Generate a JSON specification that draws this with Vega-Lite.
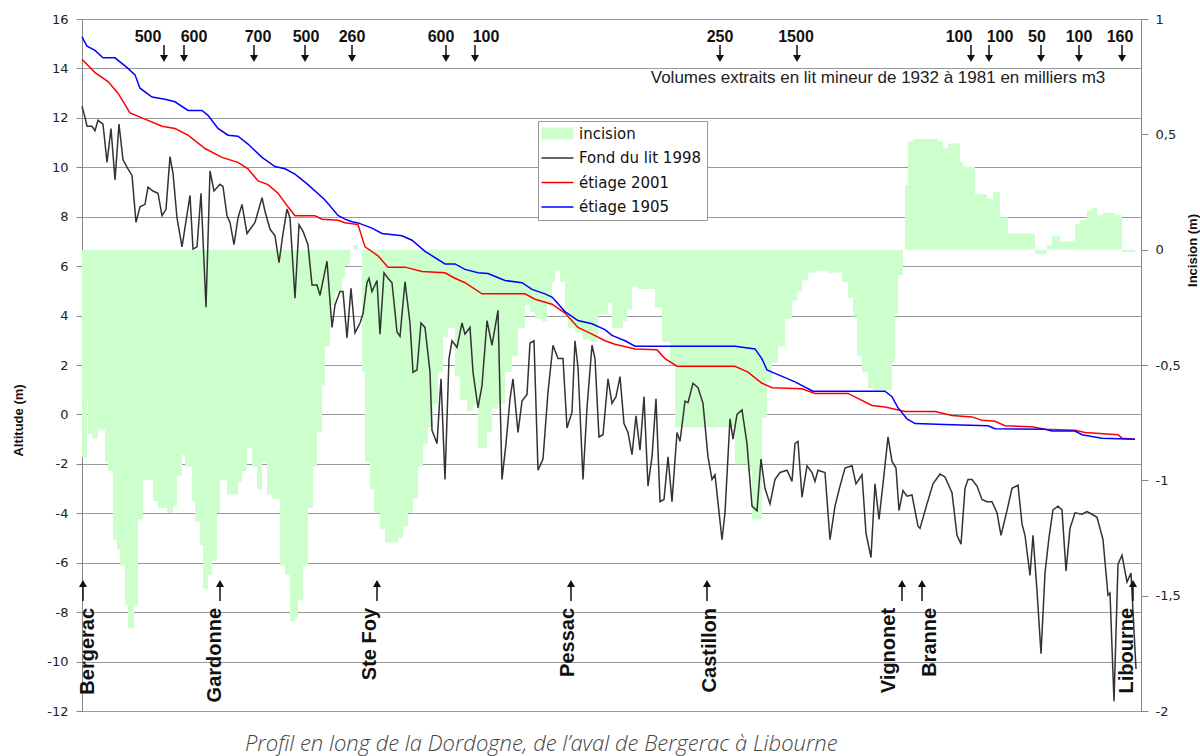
{
"$schema": "https://vega.github.io/schema/vega-lite/v6.json",
"width": 1059, "height": 692,
"autosize": {"type": "none"},
"padding": {"left": 82, "top": 19, "right": 59, "bottom": 45},
"background": "white",
"config": {"view": {"stroke": "#999"}, "font": "Liberation Sans"},
"title": {"text": "Profil en long de la Dordogne, de l’aval de Bergerac à Libourne", "orient": "bottom", "anchor": "start", "frame": "group", "dx": 163, "offset": 16, "font": "Open Sans", "fontSize": 22, "fontStyle": "italic", "fontWeight": 300, "color": "#444"},
"datasets": {
"incision": [
{"d":0,"incision":-0.90},{"d":5,"incision":-0.65},{"d":6,"incision":-0.80},{"d":10,"incision":-0.82},{"d":16,"incision":-0.78},{"d":23,"incision":-0.92},{"d":26,"incision":-0.96},{"d":31,"incision":-1.26},{"d":35,"incision":-1.30},{"d":38,"incision":-1.37},{"d":43,"incision":-1.54},{"d":46,"incision":-1.64},{"d":52,"incision":-1.54},{"d":56,"incision":-1.17},{"d":61,"incision":-1.00},{"d":71,"incision":-1.09},{"d":76,"incision":-1.12},{"d":85,"incision":-1.14},{"d":91,"incision":-1.11},{"d":95,"incision":-0.98},{"d":100,"incision":-0.89},{"d":103,"incision":-0.94},{"d":110,"incision":-1.09},{"d":113,"incision":-1.18},{"d":118,"incision":-1.28},{"d":121,"incision":-1.47},{"d":126,"incision":-1.41},{"d":130,"incision":-1.35},{"d":135,"incision":-1.14},{"d":138,"incision":-1.00},{"d":145,"incision":-1.06},{"d":156,"incision":-1.01},{"d":160,"incision":-0.96},{"d":165,"incision":-0.86},{"d":170,"incision":-0.94},{"d":175,"incision":-1.04},{"d":180,"incision":-0.92},{"d":185,"incision":-1.06},{"d":190,"incision":-1.08},{"d":198,"incision":-1.37},{"d":203,"incision":-1.41},{"d":208,"incision":-1.61},{"d":213,"incision":-1.60},{"d":216,"incision":-1.52},{"d":221,"incision":-1.37},{"d":226,"incision":-1.12},{"d":231,"incision":-0.94},{"d":235,"incision":-0.79},{"d":240,"incision":-0.59},{"d":243,"incision":-0.42},{"d":248,"incision":-0.24},{"d":253,"incision":-0.18},{"d":260,"incision":-0.12},{"d":263,"incision":-0.07},{"d":268,"incision":0},{"d":271,"incision":0.02},{"d":276,"incision":0},{"d":280,"incision":-0.53},{"d":283,"incision":-0.92},{"d":288,"incision":-1.04},{"d":292,"incision":-1.14},{"d":298,"incision":-1.21},{"d":303,"incision":-1.27},{"d":316,"incision":-1.25},{"d":321,"incision":-1.20},{"d":326,"incision":-1.14},{"d":331,"incision":-1.08},{"d":336,"incision":-0.94},{"d":341,"incision":-0.84},{"d":346,"incision":-0.77},{"d":351,"incision":-0.67},{"d":356,"incision":-0.53},{"d":361,"incision":-0.38},{"d":366,"incision":-0.34},{"d":373,"incision":-0.55},{"d":378,"incision":-0.65},{"d":385,"incision":-0.70},{"d":391,"incision":-0.67},{"d":396,"incision":-0.86},{"d":405,"incision":-0.79},{"d":410,"incision":-0.69},{"d":416,"incision":-0.67},{"d":423,"incision":-0.53},{"d":430,"incision":-0.46},{"d":436,"incision":-0.34},{"d":443,"incision":-0.24},{"d":448,"incision":-0.27},{"d":453,"incision":-0.30},{"d":460,"incision":-0.31},{"d":465,"incision":-0.24},{"d":470,"incision":-0.14},{"d":473,"incision":-0.09},{"d":478,"incision":-0.14},{"d":483,"incision":-0.26},{"d":486,"incision":-0.34},{"d":493,"incision":-0.36},{"d":501,"incision":-0.39},{"d":508,"incision":-0.40},{"d":516,"incision":-0.28},{"d":526,"incision":-0.23},{"d":530,"incision":-0.34},{"d":541,"incision":-0.31},{"d":545,"incision":-0.26},{"d":550,"incision":-0.16},{"d":556,"incision":-0.17},{"d":573,"incision":-0.25},{"d":580,"incision":-0.40},{"d":588,"incision":-0.49},{"d":593,"incision":-0.77},{"d":653,"incision":-0.93},{"d":665,"incision":-0.96},{"d":670,"incision":-1.17},{"d":680,"incision":-0.73},{"d":685,"incision":-0.57},{"d":690,"incision":-0.49},{"d":696,"incision":-0.42},{"d":703,"incision":-0.30},{"d":710,"incision":-0.22},{"d":715,"incision":-0.18},{"d":720,"incision":-0.13},{"d":726,"incision":-0.10},{"d":733,"incision":-0.09},{"d":746,"incision":-0.10},{"d":760,"incision":-0.14},{"d":766,"incision":-0.21},{"d":771,"incision":-0.29},{"d":775,"incision":-0.46},{"d":780,"incision":-0.53},{"d":786,"incision":-0.60},{"d":791,"incision":-0.61},{"d":810,"incision":-0.49},{"d":813,"incision":-0.28},{"d":816,"incision":-0.11},{"d":821,"incision":0},{"d":823,"incision":0.28},{"d":826,"incision":0.47},{"d":831,"incision":0.48},{"d":856,"incision":0.47},{"d":861,"incision":0.44},{"d":866,"incision":0.46},{"d":878,"incision":0.38},{"d":881,"incision":0.36},{"d":893,"incision":0.24},{"d":905,"incision":0.22},{"d":911,"incision":0.25},{"d":918,"incision":0.14},{"d":926,"incision":0.07},{"d":953,"incision":-0.02},{"d":965,"incision":0.02},{"d":970,"incision":0.06},{"d":978,"incision":0.035},{"d":993,"incision":0.11},{"d":998,"incision":0.13},{"d":1005,"incision":0.17},{"d":1010,"incision":0.18},{"d":1015,"incision":0.15},{"d":1020,"incision":0.16},{"d":1033,"incision":0.15},{"d":1040,"incision":-0.01},{"d":1053,"incision":0},{"d":1059,"incision":0}
],
"fond": [
{"d":0,"alt":12.47},{"d":3,"alt":12.02},{"d":5,"alt":11.66},{"d":10,"alt":11.66},{"d":13,"alt":11.48},{"d":16,"alt":11.9},{"d":21,"alt":11.75},{"d":25,"alt":10.2},{"d":29,"alt":11.57},{"d":33,"alt":9.49},{"d":37,"alt":11.75},{"d":41,"alt":10.3},{"d":46,"alt":9.94},{"d":50,"alt":9.67},{"d":54,"alt":7.77},{"d":58,"alt":8.4},{"d":63,"alt":8.5},{"d":66,"alt":9.2},{"d":71,"alt":9.04},{"d":76,"alt":8.95},{"d":80,"alt":8.04},{"d":84,"alt":8.3},{"d":88,"alt":10.43},{"d":91,"alt":9.76},{"d":95,"alt":7.95},{"d":100,"alt":6.78},{"d":108,"alt":8.86},{"d":111,"alt":6.69},{"d":115,"alt":6.78},{"d":119,"alt":8.95},{"d":124,"alt":4.34},{"d":128,"alt":9.85},{"d":132,"alt":9.04},{"d":138,"alt":9.31},{"d":141,"alt":9.22},{"d":145,"alt":8.04},{"d":148,"alt":7.77},{"d":152,"alt":6.87},{"d":156,"alt":7.95},{"d":160,"alt":8.5},{"d":165,"alt":7.32},{"d":173,"alt":7.77},{"d":180,"alt":8.77},{"d":183,"alt":8.22},{"d":188,"alt":7.5},{"d":193,"alt":7.23},{"d":197,"alt":6.14},{"d":201,"alt":7.32},{"d":205,"alt":8.31},{"d":208,"alt":7.95},{"d":213,"alt":4.7},{"d":217,"alt":7.68},{"d":221,"alt":7.41},{"d":226,"alt":6.87},{"d":230,"alt":5.24},{"d":235,"alt":5.24},{"d":238,"alt":4.82},{"d":245,"alt":6.2},{"d":250,"alt":3.52},{"d":253,"alt":4.43},{"d":258,"alt":4.97},{"d":261,"alt":4.97},{"d":265,"alt":3.1},{"d":269,"alt":5.1},{"d":273,"alt":3.3},{"d":278,"alt":3.7},{"d":281,"alt":4.07},{"d":285,"alt":5.33},{"d":287,"alt":5.51},{"d":290,"alt":4.97},{"d":295,"alt":5.42},{"d":298,"alt":3.25},{"d":302,"alt":5.73},{"d":306,"alt":5.51},{"d":310,"alt":5.33},{"d":315,"alt":3.34},{"d":318,"alt":3.16},{"d":323,"alt":5.37},{"d":328,"alt":3.7},{"d":331,"alt":1.71},{"d":335,"alt":1.8},{"d":339,"alt":3.7},{"d":343,"alt":3.52},{"d":348,"alt":1.71},{"d":350,"alt":-0.64},{"d":355,"alt":-1.18},{"d":359,"alt":1.44},{"d":363,"alt":-2.63},{"d":367,"alt":2.26},{"d":370,"alt":2.98},{"d":375,"alt":2.71},{"d":380,"alt":3.7},{"d":383,"alt":3.25},{"d":388,"alt":3.52},{"d":391,"alt":1.71},{"d":396,"alt":0.27},{"d":400,"alt":1.17},{"d":405,"alt":3.79},{"d":410,"alt":2.8},{"d":416,"alt":4.21},{"d":420,"alt":-2.63},{"d":424,"alt":-1.18},{"d":428,"alt":0.63},{"d":431,"alt":1.44},{"d":436,"alt":-0.73},{"d":440,"alt":0.54},{"d":445,"alt":0.81},{"d":448,"alt":2.89},{"d":452,"alt":2.98},{"d":456,"alt":-2.26},{"d":461,"alt":-1.81},{"d":466,"alt":0.9},{"d":471,"alt":2.8},{"d":476,"alt":2.26},{"d":481,"alt":2.26},{"d":485,"alt":-0.55},{"d":490,"alt":0.09},{"d":493,"alt":2.98},{"d":496,"alt":1.9},{"d":501,"alt":-2.63},{"d":505,"alt":0.27},{"d":510,"alt":2.8},{"d":513,"alt":2.26},{"d":517,"alt":-0.91},{"d":521,"alt":-0.82},{"d":526,"alt":1.44},{"d":530,"alt":0.45},{"d":534,"alt":0.72},{"d":538,"alt":1.53},{"d":542,"alt":-0.37},{"d":546,"alt":-0.73},{"d":550,"alt":-1.63},{"d":554,"alt":-0.06},{"d":558,"alt":-1.45},{"d":562,"alt":0.72},{"d":566,"alt":-2.9},{"d":570,"alt":-1.72},{"d":574,"alt":0.63},{"d":578,"alt":-3.53},{"d":582,"alt":-3.44},{"d":586,"alt":-1.72},{"d":590,"alt":-3.53},{"d":595,"alt":-0.73},{"d":598,"alt":-1.09},{"d":603,"alt":0.54},{"d":606,"alt":0.48},{"d":611,"alt":1.26},{"d":616,"alt":1.08},{"d":621,"alt":0.45},{"d":626,"alt":-1.72},{"d":630,"alt":-2.63},{"d":633,"alt":-2.44},{"d":640,"alt":-5.07},{"d":643,"alt":-3.98},{"d":648,"alt":-0.18},{"d":651,"alt":-1.0},{"d":655,"alt":0.0},{"d":660,"alt":0.18},{"d":665,"alt":-1.18},{"d":670,"alt":-3.71},{"d":675,"alt":-3.9},{"d":679,"alt":-1.81},{"d":683,"alt":-2.99},{"d":688,"alt":-3.62},{"d":693,"alt":-2.63},{"d":698,"alt":-2.35},{"d":705,"alt":-2.26},{"d":710,"alt":-2.71},{"d":713,"alt":-1.18},{"d":716,"alt":-1.09},{"d":720,"alt":-3.35},{"d":725,"alt":-2.08},{"d":730,"alt":-2.35},{"d":733,"alt":-2.71},{"d":736,"alt":-2.26},{"d":743,"alt":-2.35},{"d":748,"alt":-5.07},{"d":753,"alt":-3.71},{"d":758,"alt":-2.9},{"d":763,"alt":-2.17},{"d":770,"alt":-2.08},{"d":774,"alt":-2.81},{"d":780,"alt":-2.44},{"d":784,"alt":-4.8},{"d":789,"alt":-5.79},{"d":793,"alt":-2.81},{"d":797,"alt":-4.25},{"d":801,"alt":-2.81},{"d":806,"alt":-0.91},{"d":810,"alt":-1.9},{"d":814,"alt":-2.17},{"d":817,"alt":-3.89},{"d":821,"alt":-3.08},{"d":825,"alt":-3.31},{"d":830,"alt":-3.26},{"d":836,"alt":-4.52},{"d":838,"alt":-4.61},{"d":845,"alt":-3.62},{"d":851,"alt":-2.81},{"d":858,"alt":-2.41},{"d":863,"alt":-2.53},{"d":870,"alt":-3.17},{"d":875,"alt":-4.89},{"d":879,"alt":-5.25},{"d":883,"alt":-2.99},{"d":886,"alt":-2.63},{"d":890,"alt":-2.63},{"d":895,"alt":-2.9},{"d":900,"alt":-3.44},{"d":905,"alt":-3.53},{"d":910,"alt":-3.53},{"d":915,"alt":-3.98},{"d":919,"alt":-4.89},{"d":925,"alt":-3.89},{"d":930,"alt":-2.99},{"d":936,"alt":-2.86},{"d":940,"alt":-4.43},{"d":943,"alt":-4.89},{"d":948,"alt":-6.51},{"d":951,"alt":-4.89},{"d":955,"alt":-7.14},{"d":959,"alt":-9.68},{"d":963,"alt":-6.42},{"d":967,"alt":-4.98},{"d":971,"alt":-3.86},{"d":976,"alt":-3.71},{"d":980,"alt":-3.86},{"d":984,"alt":-6.33},{"d":988,"alt":-4.61},{"d":993,"alt":-3.98},{"d":1000,"alt":-4.04},{"d":1005,"alt":-3.93},{"d":1010,"alt":-4.04},{"d":1015,"alt":-4.16},{"d":1018,"alt":-4.61},{"d":1021,"alt":-5.07},{"d":1026,"alt":-7.32},{"d":1028,"alt":-7.23},{"d":1032,"alt":-11.6},{"d":1036,"alt":-6.06},{"d":1040,"alt":-5.7},{"d":1045,"alt":-6.78},{"d":1049,"alt":-6.42},{"d":1054,"alt":-10.3}
],
"etiage2001": [
{"d":0,"alt":14.37},{"d":13,"alt":13.83},{"d":26,"alt":13.47},{"d":36,"alt":13.0},{"d":48,"alt":12.2},{"d":60,"alt":12.0},{"d":80,"alt":11.66},{"d":93,"alt":11.57},{"d":106,"alt":11.3},{"d":123,"alt":10.76},{"d":140,"alt":10.4},{"d":156,"alt":10.2},{"d":166,"alt":9.94},{"d":176,"alt":9.45},{"d":186,"alt":9.3},{"d":196,"alt":8.95},{"d":206,"alt":8.4},{"d":213,"alt":8.04},{"d":233,"alt":8.04},{"d":240,"alt":7.9},{"d":256,"alt":7.86},{"d":263,"alt":7.76},{"d":276,"alt":7.68},{"d":283,"alt":6.78},{"d":296,"alt":6.42},{"d":306,"alt":5.96},{"d":323,"alt":5.96},{"d":340,"alt":5.78},{"d":363,"alt":5.73},{"d":373,"alt":5.51},{"d":383,"alt":5.33},{"d":400,"alt":4.88},{"d":443,"alt":4.88},{"d":453,"alt":4.66},{"d":470,"alt":4.46},{"d":483,"alt":4.1},{"d":496,"alt":3.52},{"d":510,"alt":3.25},{"d":523,"alt":2.98},{"d":533,"alt":2.84},{"d":553,"alt":2.65},{"d":575,"alt":2.62},{"d":583,"alt":2.26},{"d":595,"alt":1.95},{"d":653,"alt":1.95},{"d":666,"alt":1.71},{"d":680,"alt":1.26},{"d":690,"alt":1.08},{"d":720,"alt":1.04},{"d":733,"alt":0.85},{"d":766,"alt":0.85},{"d":790,"alt":0.36},{"d":803,"alt":0.3},{"d":823,"alt":0.12},{"d":853,"alt":0.12},{"d":870,"alt":-0.04},{"d":890,"alt":-0.1},{"d":900,"alt":-0.24},{"d":913,"alt":-0.28},{"d":923,"alt":-0.46},{"d":950,"alt":-0.5},{"d":963,"alt":-0.6},{"d":993,"alt":-0.64},{"d":1003,"alt":-0.73},{"d":1036,"alt":-0.82},{"d":1040,"alt":-0.96},{"d":1053,"alt":-1.0}
],
"etiage1905": [
{"d":0,"alt":15.28},{"d":5,"alt":14.9},{"d":13,"alt":14.73},{"d":21,"alt":14.43},{"d":33,"alt":14.43},{"d":46,"alt":14.0},{"d":53,"alt":13.74},{"d":58,"alt":13.2},{"d":70,"alt":12.84},{"d":83,"alt":12.75},{"d":93,"alt":12.65},{"d":106,"alt":12.3},{"d":120,"alt":12.3},{"d":126,"alt":12.1},{"d":136,"alt":11.57},{"d":146,"alt":11.3},{"d":156,"alt":11.26},{"d":166,"alt":10.94},{"d":180,"alt":10.4},{"d":193,"alt":10.03},{"d":203,"alt":9.94},{"d":213,"alt":9.72},{"d":226,"alt":9.3},{"d":243,"alt":8.68},{"d":256,"alt":8.05},{"d":263,"alt":7.9},{"d":270,"alt":7.8},{"d":276,"alt":7.75},{"d":290,"alt":7.54},{"d":300,"alt":7.32},{"d":320,"alt":7.23},{"d":330,"alt":7.05},{"d":343,"alt":6.6},{"d":363,"alt":6.09},{"d":373,"alt":6.09},{"d":383,"alt":5.87},{"d":396,"alt":5.73},{"d":406,"alt":5.7},{"d":423,"alt":5.42},{"d":440,"alt":5.33},{"d":450,"alt":5.06},{"d":463,"alt":4.88},{"d":470,"alt":4.75},{"d":483,"alt":4.16},{"d":496,"alt":3.8},{"d":510,"alt":3.67},{"d":523,"alt":3.43},{"d":530,"alt":3.2},{"d":543,"alt":2.98},{"d":553,"alt":2.76},{"d":653,"alt":2.76},{"d":673,"alt":2.65},{"d":680,"alt":2.25},{"d":685,"alt":1.8},{"d":693,"alt":1.66},{"d":713,"alt":1.32},{"d":731,"alt":0.94},{"d":803,"alt":0.94},{"d":810,"alt":0.72},{"d":816,"alt":0.27},{"d":825,"alt":-0.18},{"d":833,"alt":-0.37},{"d":870,"alt":-0.42},{"d":906,"alt":-0.46},{"d":913,"alt":-0.58},{"d":963,"alt":-0.6},{"d":970,"alt":-0.67},{"d":993,"alt":-0.67},{"d":1000,"alt":-0.82},{"d":1020,"alt":-0.96},{"d":1053,"alt":-1.0}
],
"volumes": [
{"v":"500","dl":66,"da":82},{"v":"600","dl":112,"da":102},{"v":"700","dl":176,"da":172},{"v":"500","dl":224,"da":223},{"v":"260","dl":270,"da":270},{"v":"600","dl":359,"da":364},{"v":"100","dl":404,"da":393},{"v":"250","dl":638,"da":638},{"v":"1500","dl":714,"da":715},{"v":"100","dl":877,"da":889},{"v":"100","dl":918,"da":907},{"v":"50","dl":955,"da":959},{"v":"100","dl":997,"da":997},{"v":"160","dl":1038,"da":1040}
],
"towns": [
{"name":"Bergerac","dl":6,"da":1},{"name":"Gardonne","dl":133,"da":138},{"name":"Ste Foy","dl":288,"da":295},{"name":"Pessac","dl":486,"da":489},{"name":"Castillon","dl":628,"da":625},{"name":"Vignonet","dl":807,"da":820},{"name":"Branne","dl":848,"da":840},{"name":"Libourne","dl":1045,"da":1051}
]
},
"layer": [
{
"data": {"name": "incision"},
"mark": {"type": "area", "interpolate": "step-after", "color": "#ccffcc", "opacity": 1},
"encoding": {
"x": {"field": "d", "type": "quantitative", "scale": {"domain": [0, 1059], "nice": false, "zero": false}, "axis": null},
"y": {"field": "incision", "type": "quantitative", "scale": {"domain": [-2, 1], "nice": false, "zero": false},
"axis": {"orient": "right", "values": [-2, -1.5, -1, -0.5, 0, 0.5, 1], "labelExpr": "replace(toString(datum.value), '.', ',')", "title": "Incision (m)", "titleFont": "Liberation Sans", "titleFontSize": 13, "titleFontWeight": "bold", "titleColor": "#111", "titleAngle": 270, "titleX": 51, "titleY": 231, "titleAlign": "center", "titleBaseline": "middle", "labelFont": "DejaVu Sans", "labelFontSize": 13, "labelColor": "#222", "tickColor": "#888", "domainColor": "#888", "tickSize": 7, "labelPadding": 7, "grid": false, "labelFlush": false, "labelOverlap": false}},
"y2": {"datum": 0}
}
},
{
"layer": [
{
"data": {"name": "fond"},
"mark": {"type": "line", "strokeWidth": 1.5},
"encoding": {
"x": {"field": "d", "type": "quantitative", "scale": {"domain": [0, 1059], "nice": false, "zero": false}, "axis": null},
"y": {"field": "alt", "type": "quantitative", "scale": {"domain": [-12, 16], "nice": false, "zero": false},
"axis": {"orient": "left", "values": [-12, -10, -8, -6, -4, -2, 0, 2, 4, 6, 8, 10, 12, 14, 16], "labelExpr": "toString(datum.value)", "title": "Altitude (m)", "titleFont": "Liberation Sans", "titleFontSize": 13, "titleFontWeight": "bold", "titleColor": "#111", "titleAngle": 270, "titleX": -64, "titleY": 401, "titleAlign": "center", "titleBaseline": "middle", "labelFont": "DejaVu Sans", "labelFontSize": 13, "labelColor": "#222", "tickColor": "#888", "domainColor": "#888", "tickSize": 6, "labelPadding": 8, "grid": true, "gridColor": "#999", "gridWidth": 1, "labelFlush": false, "labelOverlap": false}},
"color": {"datum": "Fond du lit 1998", "type": "nominal",
"scale": {"domain": ["incision", "Fond du lit 1998", "étiage 2001", "étiage 1905"], "range": ["#ccffcc", "#333333", "#ff0000", "#0000ff"]},
"legend": {"orient": "none", "legendX": 456, "legendY": 102, "title": null, "fillColor": "white", "strokeColor": "#999", "padding": 5, "symbolType": "M-0.82,0H2.09", "symbolSize": 484, "symbolStrokeWidth": 1.5, "labelFont": "DejaVu Sans", "labelFontSize": 15, "labelColor": "#111", "labelOffset": 21, "rowPadding": 8.5,
"encode": {"symbols": {"update": {"shape": {"signal": "datum.value === 'incision' ? 'M-0.82,-0.55H2.09V0.55H-0.82Z' : 'M-0.82,0H2.09'"}, "fill": {"signal": "datum.value === 'incision' ? '#ccffcc' : 'transparent'"}, "strokeWidth": {"signal": "datum.value === 'incision' ? 0 : 1.5"}}}}}}
}
},
{
"data": {"name": "etiage2001"},
"mark": {"type": "line", "strokeWidth": 1.5},
"encoding": {
"x": {"field": "d", "type": "quantitative", "axis": null},
"y": {"field": "alt", "type": "quantitative"},
"color": {"datum": "étiage 2001", "type": "nominal"}
}
},
{
"data": {"name": "etiage1905"},
"mark": {"type": "line", "strokeWidth": 1.5},
"encoding": {
"x": {"field": "d", "type": "quantitative", "axis": null},
"y": {"field": "alt", "type": "quantitative"},
"color": {"datum": "étiage 1905", "type": "nominal"}
}
},
{
"data": {"name": "volumes"},
"mark": {"type": "text", "font": "Liberation Sans", "fontSize": 16, "fontWeight": "bold", "color": "#111", "baseline": "middle", "align": "center"},
"encoding": {"x": {"field": "dl", "type": "quantitative", "axis": null}, "y": {"datum": 15.27}, "text": {"field": "v"}}
},
{
"data": {"name": "volumes"},
"mark": {"type": "rule", "color": "#111", "strokeWidth": 1.5},
"encoding": {"x": {"field": "da", "type": "quantitative", "axis": null}, "y": {"datum": 14.95}, "y2": {"datum": 14.45}}
},
{
"data": {"name": "volumes"},
"mark": {"type": "point", "shape": "triangle-down", "filled": true, "color": "#111", "size": 64, "opacity": 1},
"encoding": {"x": {"field": "da", "type": "quantitative", "axis": null}, "y": {"datum": 14.4}}
},
{
"data": {"name": "towns"},
"mark": {"type": "rule", "color": "#111", "strokeWidth": 1.5},
"encoding": {"x": {"field": "da", "type": "quantitative", "axis": null}, "y": {"datum": -7.55}, "y2": {"datum": -6.9}}
},
{
"data": {"name": "towns"},
"mark": {"type": "point", "shape": "triangle-up", "filled": true, "color": "#111", "size": 64, "opacity": 1},
"encoding": {"x": {"field": "da", "type": "quantitative", "axis": null}, "y": {"datum": -6.84}}
},
{
"data": {"name": "towns"},
"mark": {"type": "text", "font": "Liberation Sans", "fontSize": 20, "fontWeight": "bold", "color": "#111", "angle": 270, "align": "right", "baseline": "middle"},
"encoding": {"x": {"field": "dl", "type": "quantitative", "axis": null}, "y": {"datum": -7.83}, "text": {"field": "name"}}
},
{
"data": {"values": [{"t": "Volumes extraits en lit mineur de 1932 à 1981 en milliers m3"}]},
"mark": {"type": "text", "font": "Liberation Sans", "fontSize": 17, "color": "#222", "align": "center", "baseline": "middle"},
"encoding": {"x": {"datum": 796, "type": "quantitative", "axis": null}, "y": {"datum": 13.61}, "text": {"field": "t"}}
}
]
}
],
"resolve": {"scale": {"y": "independent"}}
}
